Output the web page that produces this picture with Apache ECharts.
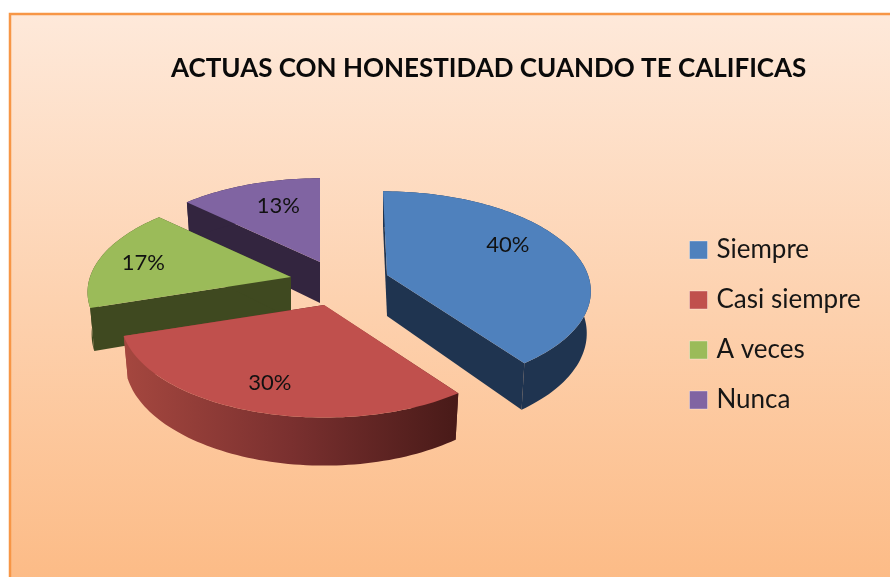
<!DOCTYPE html>
<html><head><meta charset="utf-8">
<style>html,body{margin:0;padding:0;background:#fff}#c{width:890px;height:577px}</style>
<script src="https://cdn.jsdelivr.net/npm/echarts@6/dist/echarts.min.js"></script>
</head><body><div id="c"></div>
<script>
const titleText = 'ACTUAS CON HONESTIDAD CUANDO TE CALIFICAS';
const categories = ['Siempre', 'Casi siempre', 'A veces', 'Nunca'];
const values = [40, 30, 17, 13];
const colors = ['#4f81bd', '#c0504d', '#9bbb59', '#8064a2'];

// Projection of the tilted pie plane
const RX = 201, RY = 96, PERSP = 0.147, DEPTH = 41, BOTTOM_SCALE = 0.98, SKEW = 0.06, VANISH_X = 320;
const STAGE = [
  { apex: [387, 275], z: 3, wall: '#1f3450', label: [1, -11] },
  { apex: [324, 305], z: 4, wall: 'red', label: [-10, 13] },
  { apex: [291, 277], z: 3, wall: '#3f4920', label: [-23, -1] },
  { apex: [320, 262], z: 2, wall: '#33253f', label: [6, -3] }
];
const total = values.reduce((a, b) => a + b, 0);
const startAngles = values.map((_, i) => values.slice(0, i).reduce((a, b) => a + b, 0) / total * 360);

function project(i, deg, r, below) {
  const st = STAGE[i], t = deg * Math.PI / 180;
  const X = r * Math.sin(t), Y = -r * Math.cos(t), d = 1 - PERSP * Y;
  let dx = RX * X / d + (st.apex[0] - VANISH_X) * SKEW * Y;
  const dy = RY * Y / d;
  if (below) dx *= BOTTOM_SCALE;
  return [st.apex[0] + dx, st.apex[1] + dy + (below ? DEPTH / d : 0)];
}

function renderSlice(params, api) {
  const i = params.seriesIndex, v = api.value(0);
  const a0 = startAngles[i], a1 = a0 + v / total * 360;
  const st = STAGE[i], rim = [], rimLow = [];
  for (let a = a0; a < a1; a += 1.5) { rim.push(project(i, a, 1)); rimLow.push(project(i, a, 1, true)); }
  rim.push(project(i, a1, 1)); rimLow.push(project(i, a1, 1, true));
  const apex = project(i, 0, 0), apexLow = project(i, 0, 0, true);
  const first = 0, last = rim.length - 1;
  let wallFill = st.wall;
  if (st.wall === 'red') {
    wallFill = new echarts.graphic.LinearGradient(0, 0, 1, 0, [
      { offset: 0, color: '#a5473f' }, { offset: 0.5, color: '#7a302f' }, { offset: 1, color: '#481a18' }
    ]);
  }
  const poly = (pts, fill) => ({ type: 'polygon', shape: { points: pts }, style: { fill: fill, stroke: null } });
  const mid = (a0 + a1) / 2, lp = project(i, mid, 0.65);
  return {
    type: 'group',
    children: [
      poly([apex, rim[first], rimLow[first], apexLow], wallFill),
      poly([apex, rim[last], rimLow[last], apexLow], wallFill),
      poly(rim.concat(rimLow.slice().reverse()), wallFill),
      poly([apex].concat(rim), colors[i]),
      { type: 'text', style: {
          x: lp[0] + st.label[0], y: lp[1] + st.label[1], text: v + '%', align: 'center', verticalAlign: 'middle',
          fill: '#111', font: '22px Lato, "Open Sans", sans-serif' }, z2: 10 }
    ]
  };
}

const chart = echarts.init(document.getElementById('c'), null, { renderer: 'canvas' });
chart.setOption({
  animation: false,
  backgroundColor: '#ffffff',
  title: { text: titleText, left: 166, top: 51,
    textStyle: { fontFamily: 'Lato', fontWeight: 'bold', fontSize: 26, color: '#0a0a0a' } },
  legend: {
    orient: 'vertical', left: 684, top: 232, itemWidth: 18, itemHeight: 18, itemGap: 24, selectedMode: false,
    data: categories, icon: 'rect',
    itemStyle: { borderColor: 'rgba(255,255,255,0.35)', borderWidth: 1 },
    textStyle: { fontFamily: 'Lato', fontSize: 26, color: '#161616', padding: [0, 0, 0, 4] }
  },
  graphic: [{
    type: 'rect', z: -10, silent: true,
    shape: { x: 10, y: 14, width: 890, height: 580 },
    style: {
      fill: new echarts.graphic.LinearGradient(0, 0, 0, 1, [
        { offset: 0, color: '#fee9da' }, { offset: 1, color: '#fcba84' }
      ]),
      stroke: '#f79646', lineWidth: 2.5
    }
  }],
  series: categories.map((name, i) => ({
    type: 'custom', name: name, coordinateSystem: 'none', z: STAGE[i].z, silent: true, clip: false,
    itemStyle: { color: colors[i] },
    data: [[values[i]]],
    renderItem: renderSlice
  }))
});
</script></body></html>
